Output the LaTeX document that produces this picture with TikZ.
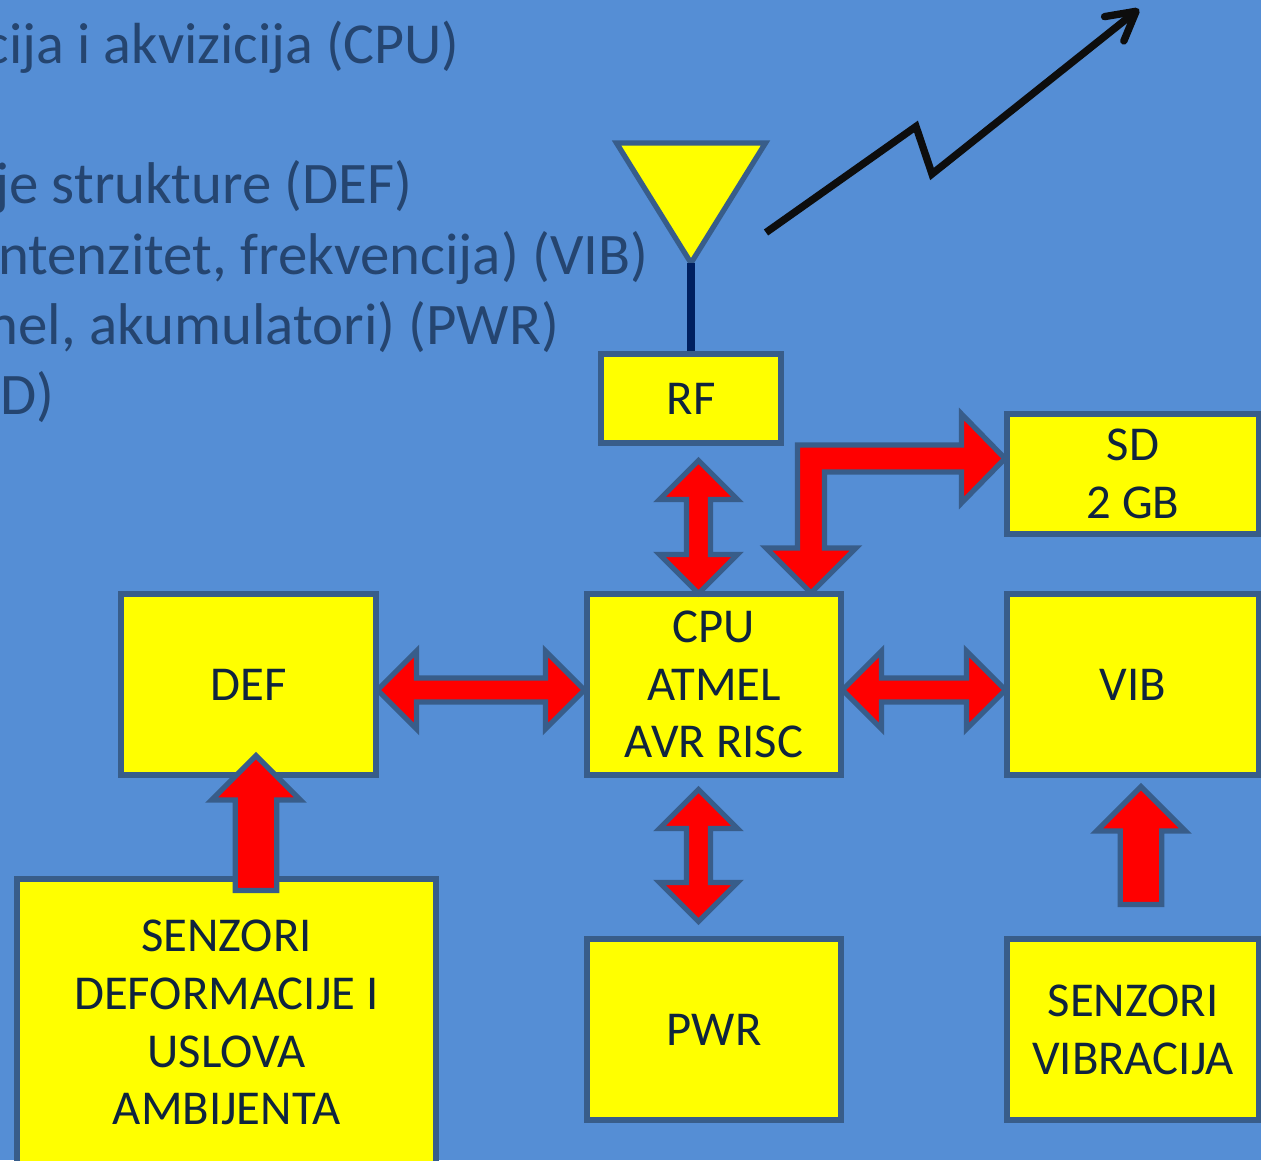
\documentclass[tikz,border=0pt]{standalone}
\usepackage{fontspec}
\setmainfont{Carlito}
\usetikzlibrary{arrows.meta,shapes.arrows}
\definecolor{bgblue}{HTML}{558ED5}
\definecolor{edgeblue}{HTML}{385D8A}
\definecolor{boxtext}{HTML}{0F243E}
\definecolor{toptext}{HTML}{254570}
\definecolor{mastblue}{HTML}{002060}
\definecolor{signalblack}{HTML}{0D0D0D}
\definecolor{boxyellow}{HTML}{FFFF00}
\definecolor{arrowred}{HTML}{FF0000}
\tikzset{
    box/.style={draw=edgeblue, line width=3pt, fill=boxyellow, text=boxtext, align=center, inner sep=0pt, font=\fontsize{27.7}{32.9}\selectfont},
    bullet/.style={text=toptext, inner sep=0pt, anchor=base east, font=\fontsize{33.5}{40}\selectfont},
    dblarrow/.style={double arrow, draw=edgeblue, line width=3pt, fill=arrowred, inner sep=0pt, minimum width=1.56cm, double arrow head extend=0.12cm},
    uparrow/.style={single arrow, draw=edgeblue, line width=3pt, fill=arrowred, inner sep=0pt, rotate=90, minimum width=1.78cm, single arrow head extend=0.06cm}
}
\begin{document}
\begin{tikzpicture}
        \useasboundingbox (0, 0) rectangle (25.22, 23.2);
        \clip (0, 0) rectangle (25.22, 23.2);
        \fill[bgblue] (0, 0) rectangle (25.22, 23.2);

        % Text behind the diagram
        \node (line1) [bullet, font=\fontsize{33}{40}\selectfont] at (9.2, 21.92) {cija i akvizicija (CPU)};
        \node (line2) [bullet] at (8.26, 19.12) {je strukture (DEF)};
        \node (line3) [bullet] at (12.97, 17.7) {ntenzitet, frekvencija) (VIB)};
        \node (line4) [bullet] at (11.19, 16.3) {nel, akumulatori) (PWR)};
        \node (line5) [bullet] at (1.1, 14.9) {D)};

        % Blocks
        \node (rf) [box, minimum width=3.6cm, minimum height=1.78cm] at (13.82, 15.23) {RF};
        \node (sd) [box, minimum width=5.04cm, minimum height=2.4cm] at (22.66, 13.72) {SD\\2 GB};
        \node (cpu) [box, minimum width=5.08cm, minimum height=3.62cm] at (14.28, 9.51) {CPU\\ATMEL\\AVR RISC};
        \node (def) [box, minimum width=5.1cm, minimum height=3.62cm] at (4.97, 9.51) {DEF};
        \node (vib) [box, minimum width=5.04cm, minimum height=3.62cm] at (22.66, 9.51) {VIB};
        \node (pwr) [box, minimum width=5.08cm, minimum height=3.62cm] at (14.28, 2.61) {PWR};
        \node (senvib) [box, minimum width=5.04cm, minimum height=3.62cm] at (22.66, 2.61) {SENZORI\\VIBRACIJA};
        \node (sendef) [box, minimum width=8.38cm, minimum height=5.74cm] at (4.53, 2.75) {SENZORI\\DEFORMACIJE I\\USLOVA\\AMBIJENTA};

        % Antenna
        \coordinate (anttip) at (13.82, 17.94);
        \draw[draw=edgeblue, line width=3pt, fill=boxyellow] (12.33, 20.34) -- (15.31, 20.34) -- (anttip) -- cycle;
        \draw[mastblue, line width=4.4pt] (anttip) -- (rf.north);

        % Radio signal
        \coordinate (sigstart) at (15.32, 18.55);
        \coordinate (sigknee1) at (18.32, 20.67);
        \coordinate (sigknee2) at (18.64, 19.72);
        \coordinate (sigend) at (22.78, 23.02);
        \draw[signalblack, line width=4.2pt, -{Straight Barb[length=0.56cm, width=0.62cm, round]}] (sigstart) -- (sigknee1) -- (sigknee2) -- (sigend);

        % Block arrows
        \node (rfcpu) [dblarrow, rotate=90, minimum height=2.66cm] at (13.97, 12.66) {};
        \node (pwrcpu) [dblarrow, rotate=90, minimum height=2.64cm] at (13.97, 6.09) {};
        \node (defcpu) [dblarrow, minimum height=4.14cm] at (9.62, 9.4) {};
        \node (cpuvib) [dblarrow, minimum height=3.26cm] at (18.48, 9.4) {};
        \node (sendefup) [uparrow, minimum height=2.7cm] at (5.12, 6.53) {};
        \node (senvibup) [uparrow, minimum height=2.36cm] at (22.82, 6.08) {};
        \draw[draw=edgeblue, line width=3pt, fill=arrowred] (15.95, 14.3) -- (19.23, 14.3) -- (19.23, 14.92) -- (20.1, 14.03) -- (19.23, 13.14) -- (19.23, 13.76) -- (16.49, 13.76) -- (16.49, 12.24) -- (17.12, 12.24) -- (16.22, 11.34) -- (15.32, 12.24) -- (15.95, 12.24) -- cycle;

    \end{tikzpicture}
\end{document}
